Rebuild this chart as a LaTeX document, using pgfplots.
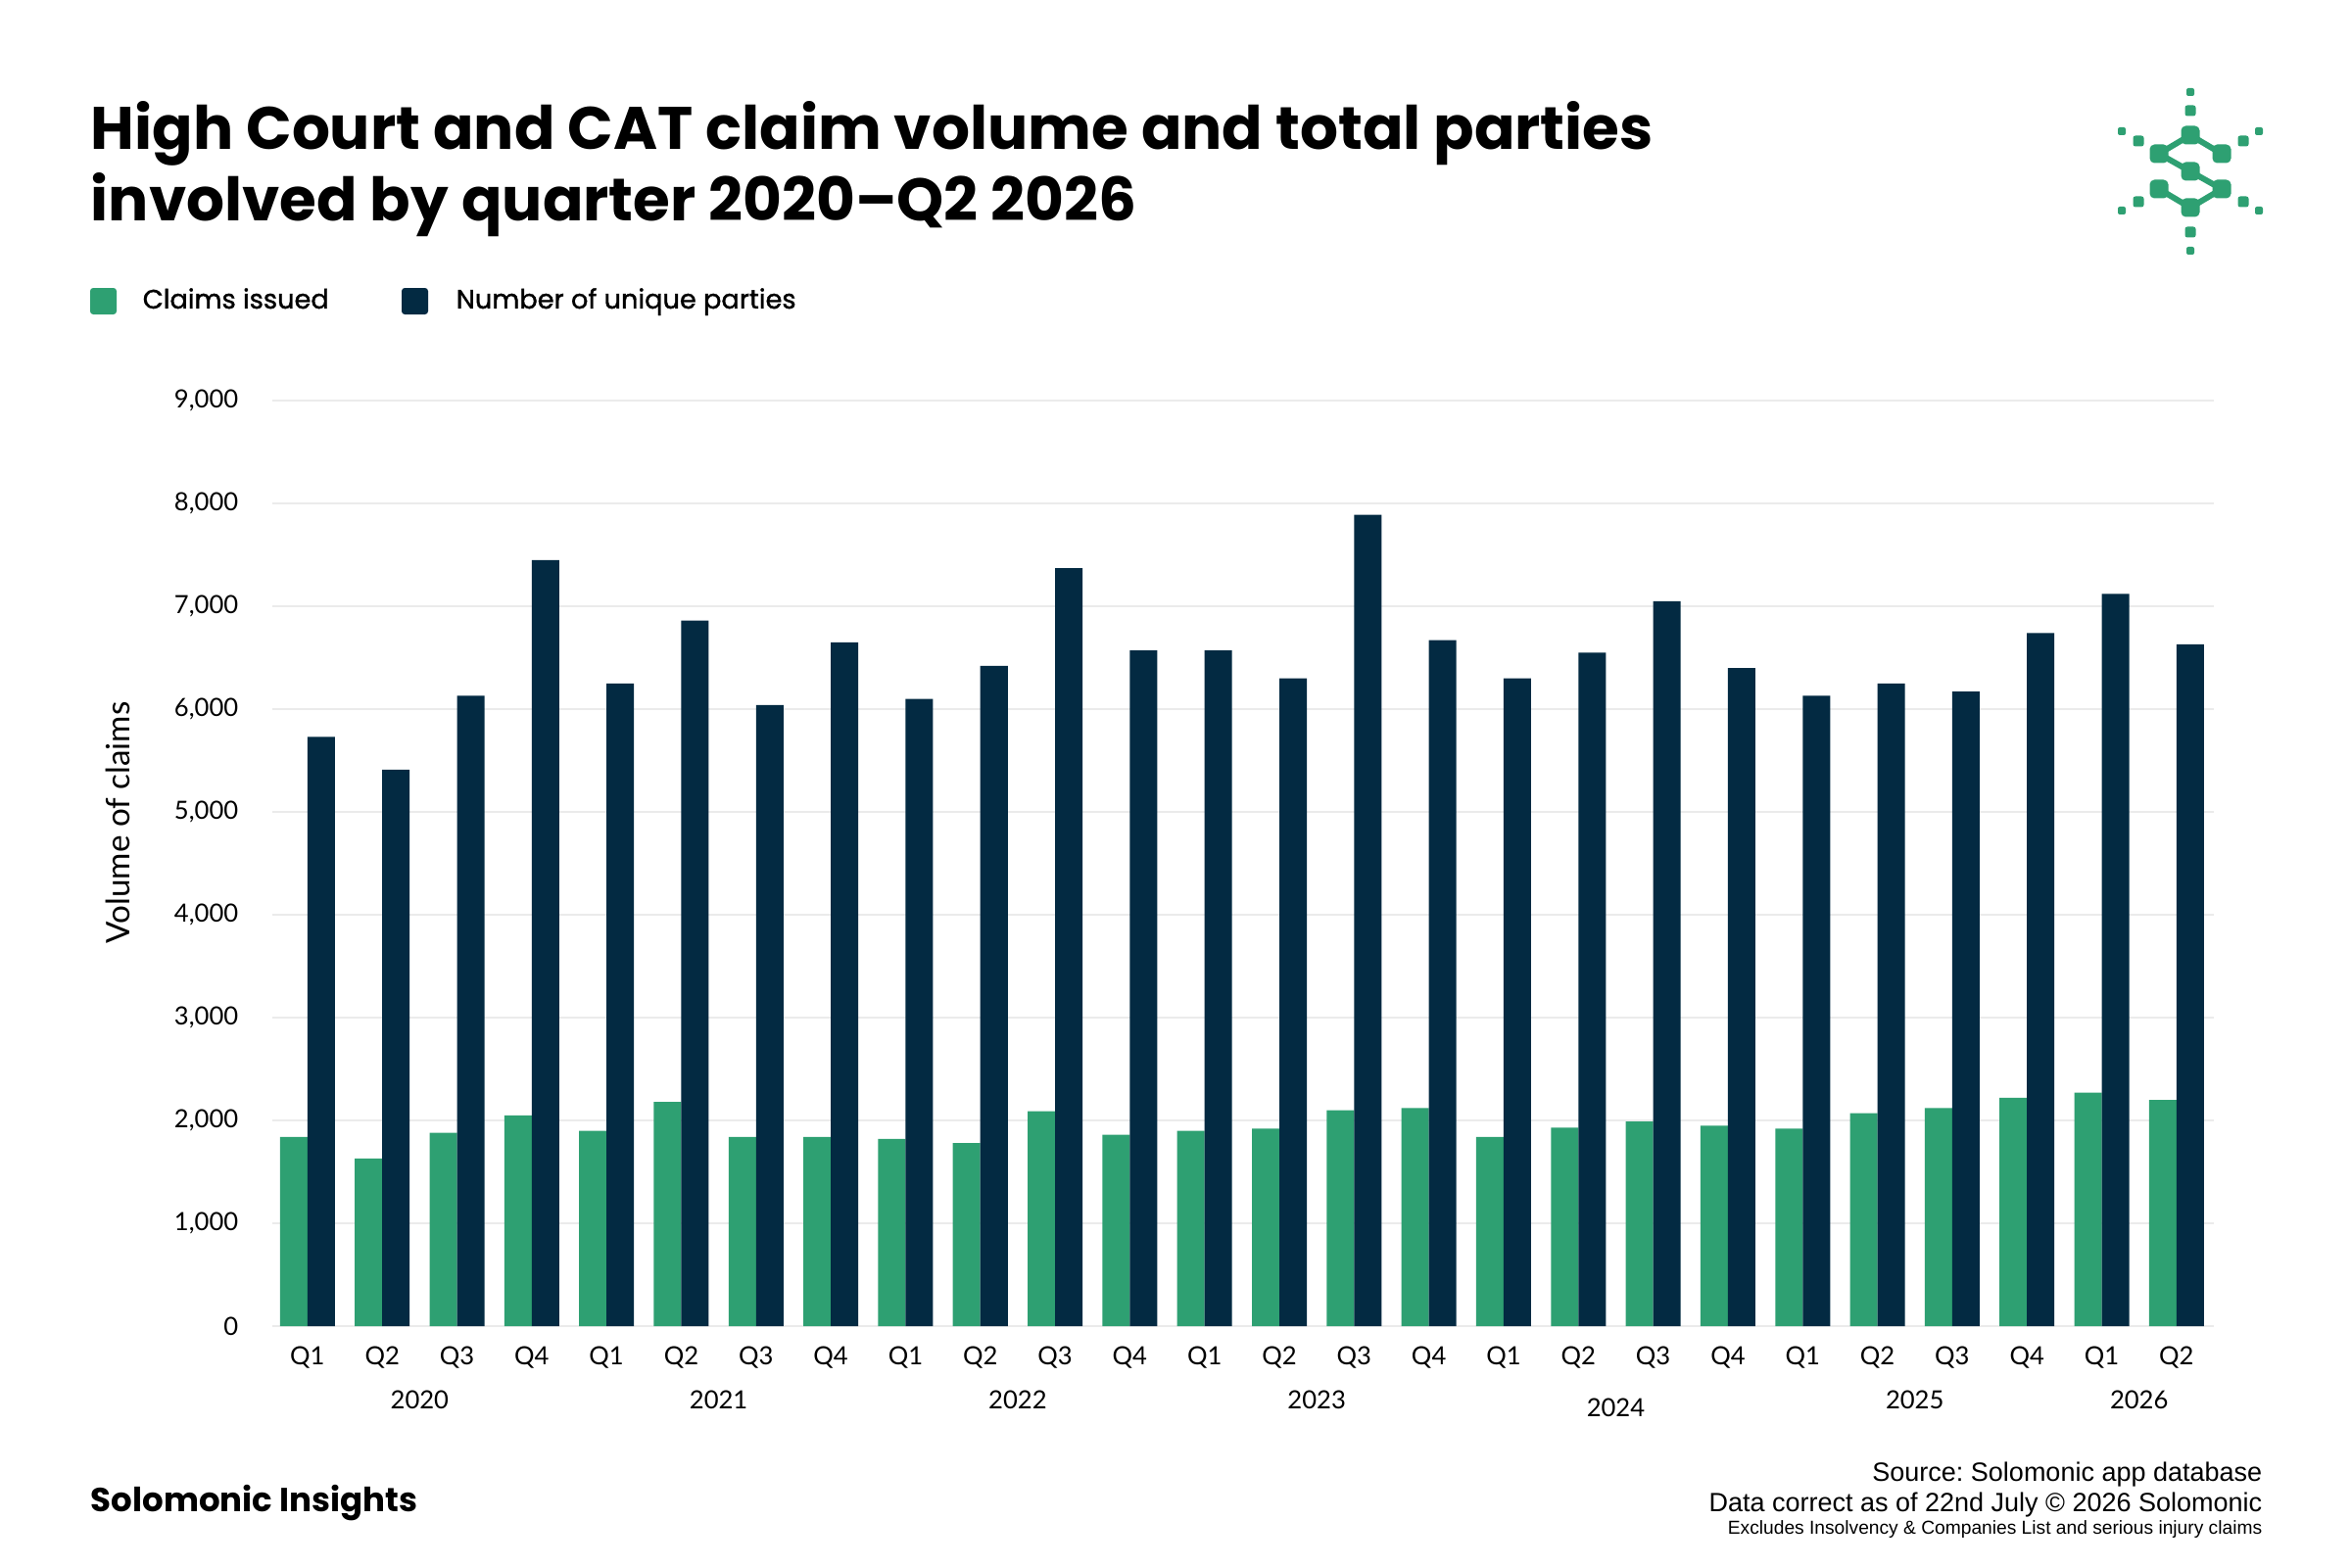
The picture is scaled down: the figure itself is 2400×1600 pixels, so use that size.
\documentclass[border=0pt]{standalone}
\usepackage{fontspec}
\usepackage{pgfplots}
\pgfplotsset{compat=1.18}
\setmainfont{Lato}
\newfontfamily\pop{Poppins}
\newfontfamily\popmed{Poppins}[FakeBold=1.2]
\newfontfamily\arial{Liberation Sans}
\definecolor{cgreen}{HTML}{2EA072}
\definecolor{cnavy}{HTML}{032A42}
\definecolor{cgrid}{HTML}{EBEBEB}
\frenchspacing

\pgfplotstableread{
x claims parties
0  1840 5730
1  1630 5410
2  1880 6130
3  2050 7450
4  1900 6250
5  2180 6860
6  1840 6040
7  1840 6650
8  1820 6100
9  1780 6420
10 2090 7370
11 1860 6570
12 1900 6570
13 1920 6300
14 2100 7890
15 2120 6670
16 1840 6300
17 1930 6550
18 1990 7050
19 1950 6400
20 1920 6130
21 2070 6250
22 2120 6170
23 2220 6740
24 2270 7120
25 2200 6630
}\datatable

\begin{document}
\begin{tikzpicture}
\begin{scope}[x=0.25pt,y=-0.25pt,shift={(0pt,400pt)}]
\fill[white] (0,0) rectangle (2400,1600);
\path[use as bounding box] (0,0) rectangle (2400,1600);
% title
\node[anchor=base west, inner sep=0, font=\pop\bfseries\fontsize{15.3pt}{18pt}\selectfont] at (92,153) {High Court and CAT claim volume and total parties};
\node[anchor=base west, inner sep=0, font=\pop\bfseries\fontsize{15.3pt}{18pt}\selectfont] at (92,225) {involved by quarter 2020–Q2 2026};
% legend
\fill[cgreen, rounded corners=0.8pt] (92,294) rectangle (119,321);
\node[anchor=base west, inner sep=0, font=\popmed\fontsize{6.8pt}{8pt}\selectfont] at (145,315) {Claims issued};
\fill[cnavy, rounded corners=0.8pt] (410,294) rectangle (437,321);
\node[anchor=base west, inner sep=0, font=\popmed\fontsize{6.8pt}{8pt}\selectfont] at (465,315) {Number of unique parties};
% y label
\node[rotate=90, anchor=base, inner sep=0, font=\fontsize{8.3pt}{9pt}\selectfont] at (132,840) {Volume of claims};
% footer
\node[anchor=base west, inner sep=0, font=\pop\bfseries\fontsize{8.5pt}{9pt}\selectfont] at (92,1543) {Solomonic Insights};
\node[anchor=base east, inner sep=0, font=\arial\fontsize{6.75pt}{7pt}\selectfont] at (2310,1512) {Source: Solomonic app database};
\node[anchor=base east, inner sep=0, font=\arial\fontsize{6.75pt}{7pt}\selectfont] at (2310,1543) {Data correct as of 22nd July © 2026 Solomonic};
\node[anchor=base east, inner sep=0, font=\arial\fontsize{4.8pt}{5pt}\selectfont] at (2310,1566) {Excludes Insolvency \& Companies List and serious injury claims};
% logo
\begin{scope}[cgreen]
\draw[line width=1.5pt] (2268,157)--(2236,138)--(2204,157)--(2236,175)--(2268,193)--(2236,212)--(2204,193);
\foreach \p in {(2236,138),(2204,157),(2268,157),(2236,175),(2204,193),(2268,193),(2236,212)}{
  \fill[rounded corners=1.2pt] \p ++(-9.5,-9.5) rectangle ++(19,19);}
\foreach \p in {(2236,113),(2236,237),(2183,144),(2290,144),(2183,206),(2290,206)}{
  \fill[rounded corners=0.6pt] \p ++(-5.5,-5.5) rectangle ++(11,11);}
\foreach \p in {(2236,94),(2236,256),(2166,134),(2306,134),(2166,215),(2306,215)}{
  \fill[rounded corners=0.5pt] \p ++(-4,-4) rectangle ++(8,8);}
\end{scope}
\end{scope}

\begin{axis}[
  at={(69.5pt,61.5pt)}, anchor=south west,
  scale only axis, width=495.5pt, height=236.25pt,
  xmin=-0.47, xmax=25.5, ymin=0, ymax=9000,
  axis line style={draw=none},
  major tick length=0pt, tick style={draw=none},
  ytick={0,1000,...,9000},
  ymajorgrids, grid style={cgrid, line width=0.6pt},
  xtick={0,...,25},
  xticklabels={Q1,Q2,Q3,Q4,Q1,Q2,Q3,Q4,Q1,Q2,Q3,Q4,Q1,Q2,Q3,Q4,Q1,Q2,Q3,Q4,Q1,Q2,Q3,Q4,Q1,Q2},
  /pgf/number format/assume math mode=true,
  /pgf/number format/1000 sep={,},
  tick label style={font=\fontsize{6.4pt}{7pt}\selectfont},
  yticklabel style={anchor=east, inner sep=0pt, xshift=-8.5pt},
  xticklabel style={anchor=base, inner sep=0pt, yshift=-9.75pt},
  clip=false,
]
\addplot[ybar, fill=cgreen, draw=none, bar width=0.367, bar shift=-0.1835] table[x=x, y=claims] {\datatable};
\addplot[ybar, fill=cnavy, draw=none, bar width=0.367, bar shift=0.1835] table[x=x, y=parties] {\datatable};
\foreach \yr/\c in {2020/1.5, 2021/5.5, 2022/9.5, 2023/13.5, 2025/21.5, 2026/24.5}{
  \edef\tmp{\noexpand\node[anchor=base, inner sep=0pt, font=\noexpand\fontsize{6.4pt}{7pt}\noexpand\selectfont, yshift=-21pt] at (axis cs:\c,0) {\yr};}\tmp
}
\node[anchor=base, inner sep=0pt, font=\fontsize{6.4pt}{7pt}\selectfont, yshift=-23pt] at (axis cs:17.5,0) {2024};
\end{axis}
\end{tikzpicture}
\end{document}
